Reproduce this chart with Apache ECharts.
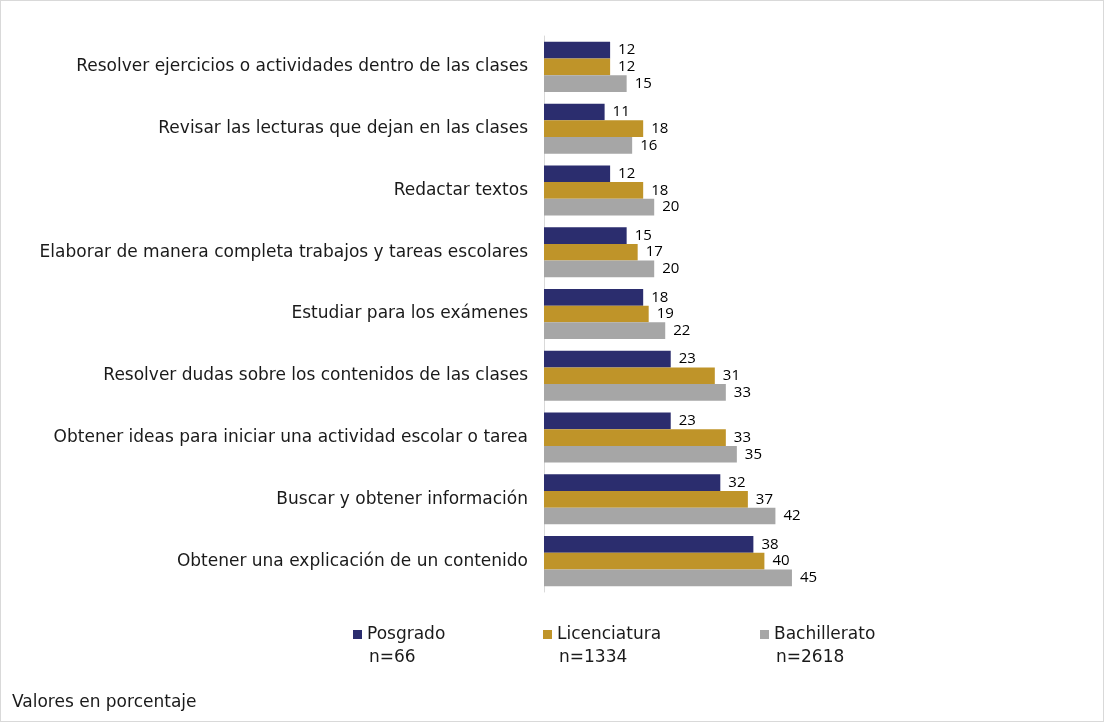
<!DOCTYPE html>
<html>
<head>
<meta charset="utf-8">
<script src="https://cdn.jsdelivr.net/npm/echarts@6/dist/echarts.min.js"></script>
<style>
html,body{margin:0;padding:0;background:#fff;}
#c{width:1102px;height:720px;border:1px solid #d9d9d9;}
</style>
</head>
<body>
<div id="c"></div>
<script>
var categories = [
  'Resolver ejercicios o actividades dentro de las clases',
  'Revisar las lecturas que dejan en las clases',
  'Redactar textos',
  'Elaborar de manera completa trabajos y tareas escolares',
  'Estudiar para los exámenes',
  'Resolver dudas sobre los contenidos de las clases',
  'Obtener ideas para iniciar una actividad escolar o tarea',
  'Buscar y obtener información',
  'Obtener una explicación de un contenido'
];
var seriesNames = ['Posgrado', 'Licenciatura', 'Bachillerato'];
var sampleSizes = ['n=66', 'n=1334', 'n=2618'];
var posgrado = [12, 11, 12, 15, 18, 23, 23, 32, 38];
var licenciatura = [12, 18, 18, 17, 19, 31, 33, 37, 40];
var bachillerato = [15, 16, 20, 20, 22, 33, 35, 42, 45];
var footnote = 'Valores en porcentaje';

var colors = ['#2b2d6e', '#bf9429', '#a6a6a6'];
var values = [posgrado, licenciatura, bachillerato];
var legendLeft = [352, 542, 759];
var textFont = 'DejaVu Sans';

var chart = echarts.init(document.getElementById('c'));
var series = seriesNames.map(function (n, i) {
  return {
    name: n,
    type: 'bar',
    data: values[i],
    barGap: '0%',
    barCategoryGap: '19%',
    itemStyle: { color: colors[i] },
    label: {
      show: true,
      position: 'right',
      distance: 8,
      color: '#000',
      fontFamily: 'Open Sans',
      fontSize: 15
    },
    emphasis: { disabled: true }
  };
});
var legends = seriesNames.map(function (n, i) {
  return {
    data: [n],
    left: legendLeft[i],
    top: 625,
    icon: 'rect',
    itemWidth: 9,
    itemHeight: 9,
    itemGap: 0,
    padding: 0,
    textStyle: { fontFamily: textFont, fontSize: 17, color: '#1a1a1a', padding: [0, 0, 0, 0] },
    selectedMode: false
  };
});
var graphics = sampleSizes.map(function (s, i) {
  return {
    type: 'text',
    left: legendLeft[i] + 16,
    top: 648,
    style: { text: s, font: '17px "' + textFont + '"', fill: '#1a1a1a' }
  };
});
graphics.push({
  type: 'text',
  left: 11,
  top: 693,
  style: { text: footnote, font: '17px "' + textFont + '"', fill: '#1a1a1a' }
});

chart.setOption({
  animation: false,
  color: colors,
  grid: { left: 543, right: 8, top: 35, bottom: 129, containLabel: false },
  xAxis: {
    type: 'value',
    min: 0,
    max: 100,
    show: false,
    splitLine: { show: false }
  },
  yAxis: {
    type: 'category',
    data: categories,
    inverse: true,
    axisLine: { show: true, lineStyle: { color: '#d9d9d9', width: 1 } },
    axisTick: { show: false },
    axisLabel: { margin: 16, fontFamily: textFont, fontSize: 17, color: '#1a1a1a' }
  },
  legend: legends,
  graphic: graphics,
  series: series
});
</script>
</body>
</html>
